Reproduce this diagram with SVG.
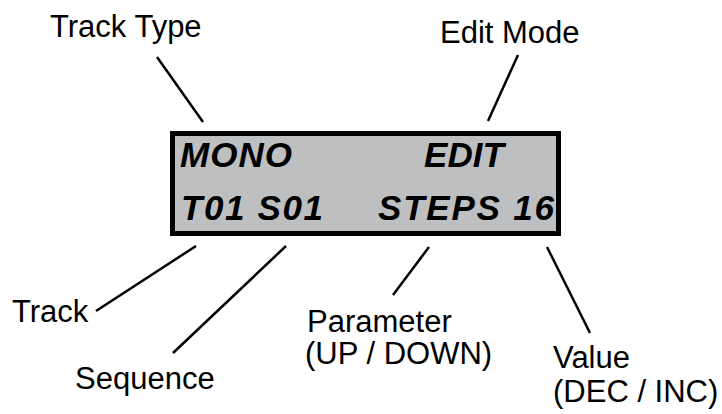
<svg xmlns="http://www.w3.org/2000/svg" width="722" height="414" viewBox="0 0 722 414">
<style>
.lbl{font-family:"Liberation Sans",Arial,sans-serif;font-size:31px;fill:#000}
.lcd{font-family:"Liberation Sans",Arial,sans-serif;font-weight:bold;font-style:italic;font-size:35px;fill:#000}
.c{stroke:#000;stroke-width:2.5;fill:none;stroke-linecap:butt}
</style>
<rect width="722" height="414" fill="#fff"/>
<g id="display">
<rect x="172.5" y="133.5" width="386" height="100" fill="#BEBFC1" stroke="#000" stroke-width="5"/>
<text class="lcd" x="180" y="167" textLength="112" lengthAdjust="spacing">MONO</text>
<text class="lcd" x="424" y="167" textLength="80" lengthAdjust="spacing">EDIT</text>
<text class="lcd" x="181" y="220" textLength="142" lengthAdjust="spacing">T01 S01</text>
<text class="lcd" x="378" y="220" textLength="176" lengthAdjust="spacing">STEPS 16</text>
</g>
<g id="connectors">
<line class="c" x1="157" y1="57" x2="203" y2="122"/>
<line class="c" x1="518" y1="55" x2="488" y2="121"/>
<line class="c" x1="196" y1="246" x2="96" y2="311"/>
<line class="c" x1="286" y1="246" x2="173" y2="353"/>
<line class="c" x1="429" y1="247" x2="393" y2="295"/>
<line class="c" x1="547" y1="247" x2="590" y2="333"/>
</g>
<g id="track-type"><text class="lbl" x="50" y="37">Track Type</text></g>
<g id="edit-mode"><text class="lbl" x="440" y="43">Edit Mode</text></g>
<g id="track"><text class="lbl" x="12" y="322">Track</text></g>
<g id="sequence"><text class="lbl" x="75" y="389">Sequence</text></g>
<g id="parameter"><text class="lbl" x="307" y="332">Parameter</text><text class="lbl" x="305" y="364">(UP / DOWN)</text></g>
<g id="value"><text class="lbl" x="553" y="368">Value</text><text class="lbl" x="553" y="402">(DEC / INC)</text></g>
</svg>
